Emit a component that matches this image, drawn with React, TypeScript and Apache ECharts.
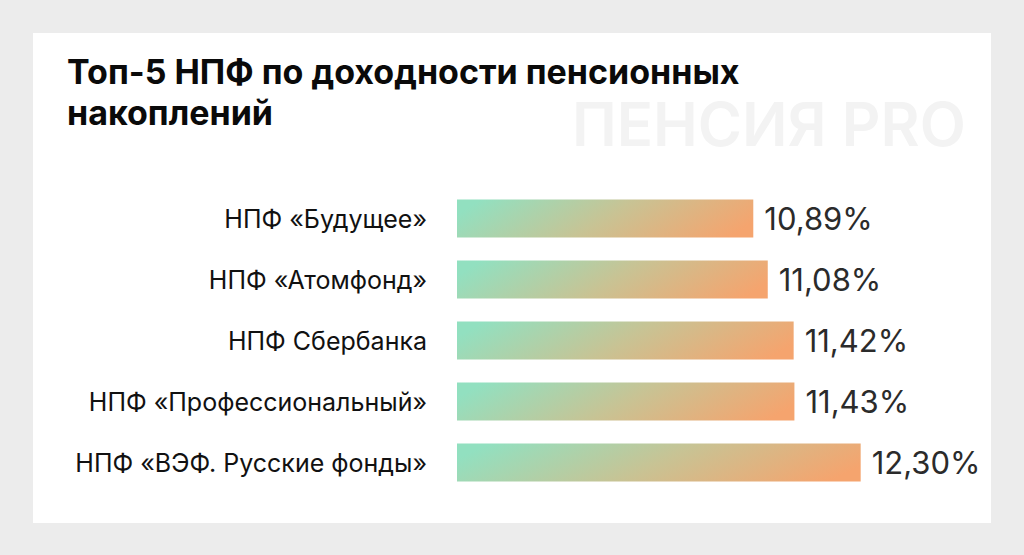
import React, { useEffect, useRef } from "react";
import * as echarts from "echarts";

const categories = [
  "НПФ «Будущее»",
  "НПФ «Атомфонд»",
  "НПФ Сбербанка",
  "НПФ «Профессиональный»",
  "НПФ «ВЭФ. Русские фонды»",
];
const values = [10.89, 11.08, 11.42, 11.43, 12.3];
const titleText = "Топ-5 НПФ по доходности пенсионных\nнакоплений";
const watermarkText = "ПЕНСИЯ PRO";

const FONT = "Inter, 'Noto Sans', sans-serif";

export default function App() {
  const ref = useRef<HTMLDivElement>(null);
  useEffect(() => {
    if (!ref.current) return;
    const chart = echarts.init(ref.current, undefined, { renderer: "svg" });
    chart.setOption({
      animation: false,
      backgroundColor: "#ececec",
      title: {
        text: titleText,
        left: 62,
        top: 46,
        textStyle: {
          fontFamily: FONT,
          fontSize: 34,
          fontWeight: 700,
          lineHeight: 41,
          color: "#0a0a0a",
        },
      },
      graphic: [
        {
          type: "rect",
          z: -10,
          shape: { x: 33, y: 33, width: 958, height: 490 },
          style: { fill: "#ffffff" },
        },
        {
          type: "text",
          z: -5,
          x: 572,
          y: 94,
          style: {
            text: watermarkText,
            font: `600 60px ${FONT}`,
            fill: "#f3f3f3",
          },
        },
      ],
      grid: { left: 457, right: 110, top: 188, bottom: 62, containLabel: false },
      xAxis: {
        type: "value",
        min: 7,
        max: 13,
        show: false,
      },
      yAxis: {
        type: "category",
        data: categories,
        inverse: true,
        axisLine: { show: false },
        axisTick: { show: false },
        axisLabel: {
          margin: 30,
          fontFamily: FONT,
          fontSize: 25,
          color: "#111111",
        },
      },
      series: [
        {
          type: "bar",
          data: values,
          barWidth: 38,
          itemStyle: {
            color: new echarts.graphic.LinearGradient(0, 0.4, 1, 0.6, [
              { offset: 0, color: "#92e0c0" },
              { offset: 0.5, color: "#c8c394" },
              { offset: 1, color: "#f5a46e" },
            ]),
          },
          label: {
            show: true,
            position: "right",
            distance: 11,
            fontFamily: FONT,
            fontSize: 31,
            color: "#2b2b2b",
            formatter: (p: any) => p.value.toFixed(2).replace(".", ",") + "%",
          },
        },
      ],
    });
    return () => chart.dispose();
  }, []);
  return (
    <div
      ref={ref}
      style={{ position: "fixed", left: 0, top: 0, width: 1024, height: 555 }}
    />
  );
}
